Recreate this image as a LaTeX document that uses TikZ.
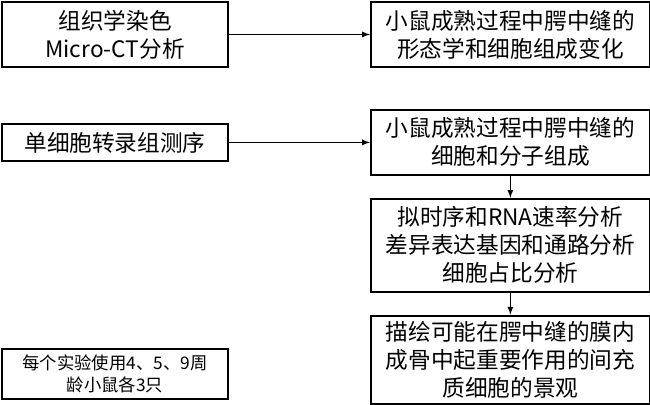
\documentclass[tikz,border=0pt]{standalone}
\usepackage{fontspec}
\setmainfont{Noto Sans CJK SC}
\usetikzlibrary{positioning}

\begin{document}
\begin{tikzpicture}[x=0.75pt,y=-0.75pt,
  every node/.style={draw,line width=1.4pt,align=center,inner sep=0pt,
    font=\fontsize{17}{21}\selectfont},
  narrow/.style={minimum width=169.5pt},
  wide/.style={minimum width=209.25pt},
  link/.style={line width=1pt,-latex}]
\useasboundingbox (0,0) rectangle (650,404);
% left column
\node[narrow,minimum height=48.75pt] (histo) at (115,34.5) {组织学染色\\Micro-CT分析};
\node[wide,minimum height=48.75pt] (morph) [right=105.75pt of histo] {小鼠成熟过程中腭中缝的\\形态学和细胞组成变化};
% right column
\node[wide,minimum height=48.75pt] (comp) [below=30.75pt of morph] {小鼠成熟过程中腭中缝的\\细胞和分子组成};
\node[narrow,minimum height=27.75pt] (seq) [left=105.75pt of comp] {单细胞转录组测序};
\node[wide,minimum height=69.75pt] (anal) [below=16.5pt of comp] {拟时序和RNA速率分析\\差异表达基因和通路分析\\细胞占比分析};
\node[wide,minimum height=66pt] (land) [below=16.5pt of anal] {描绘可能在腭中缝的膜内\\成骨中起重要作用的间充\\质细胞的景观};
% note
\node[narrow,minimum height=37.5pt,font=\fontsize{13}{17}\selectfont] (mice) at (115,374) {每个实验使用4、5、9周\\龄小鼠各3只};
\draw[link] (histo) -- (morph);
\draw[link] (seq) -- (comp);
\draw[link] (comp) -- (anal);
\draw[link] (anal) -- (land);
\end{tikzpicture}
\end{document}
